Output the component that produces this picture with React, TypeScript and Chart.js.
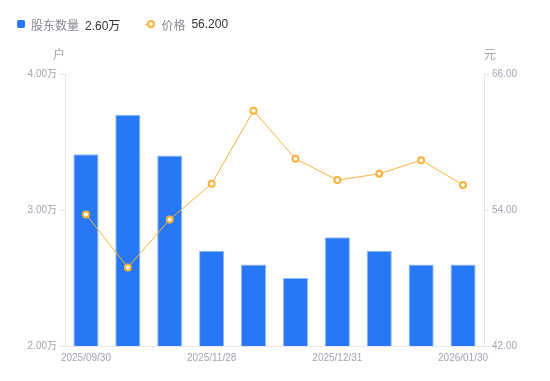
import React, { useEffect, useRef } from "react";
import { Chart, registerables } from "chart.js";

Chart.register(...registerables);

const categories = [
  "2025/09/30",
  "2025/10/20",
  "2025/10/31",
  "2025/11/28",
  "2025/12/10",
  "2025/12/19",
  "2025/12/31",
  "2026/01/09",
  "2026/01/20",
  "2026/01/30",
];
const holders = [3.41, 3.7, 3.4, 2.7, 2.6, 2.5, 2.8, 2.7, 2.6, 2.6];
const prices = [53.61, 48.93, 53.17, 56.31, 62.76, 58.52, 56.64, 57.19, 58.4, 56.2];
const shownLabelIdx = [0, 3, 6, 9];
const leftTicks = [2, 3, 4];
const rightTicks = [42, 54, 66];

const BLUE = "#2878f5";
const ORANGE = "#f7b23b";
const TICK_COLOR = "#a3a3b3";
const LINE_COLOR = "#e6e6ea";
const FONT = "'Liberation Sans', 'Noto Sans CJK SC', sans-serif";

const axisTitlePlugin = {
  id: "axisTitles",
  afterDraw(chart: any) {
    const ctx = chart.ctx;
    const yL = chart.scales.y;
    const yR = chart.scales.y1;
    ctx.save();
    ctx.fillStyle = TICK_COLOR;
    ctx.font = `12px ${FONT}`;
    ctx.textBaseline = "middle";
    ctx.textAlign = "center";
    ctx.fillText("户", yL.right - 6, 56);
    ctx.fillText("元", yR.left + 6, 56);
    ctx.restore();
  },
};

export default function App() {
  const ref = useRef<HTMLCanvasElement | null>(null);

  useEffect(() => {
    if (!ref.current) return;
    const chart = new Chart(ref.current, {
      type: "bar",
      data: {
        labels: categories,
        datasets: [
          {
            type: "line",
            label: "价格",
            data: prices,
            yAxisID: "y1",
            borderColor: ORANGE,
            borderWidth: 1,
            pointRadius: 3,
            pointBorderWidth: 2,
            pointBackgroundColor: "#ffffff",
            pointBorderColor: ORANGE,
            tension: 0,
            order: 0,
          } as any,
          {
            type: "bar",
            label: "股东数量",
            data: holders,
            yAxisID: "y",
            backgroundColor: BLUE,
            borderColor: "#8fbaf8",
            borderWidth: 1,
            barPercentage: 0.6,
            categoryPercentage: 1,
            order: 1,
          } as any,
        ],
      },
      options: {
        animation: false,
        responsive: false,
        maintainAspectRatio: false,
        layout: { padding: { top: 74, left: 0, right: 0, bottom: 0 } },
        plugins: {
          legend: { display: false },
          tooltip: { enabled: false },
        },
        scales: {
          x: {
            grid: { display: false, drawTicks: false, tickLength: 0 },
            border: { display: true, color: LINE_COLOR },
            ticks: {
              autoSkip: false,
              maxRotation: 0,
              minRotation: 0,
              color: TICK_COLOR,
              font: { size: 10, family: FONT },
              padding: 6,
              callback: (_v: any, i: number) =>
                shownLabelIdx.includes(i) ? categories[i] : "",
            },
            afterFit: (s: any) => {
              s.height = 35;
            },
          },
          y: {
            position: "left",
            min: 2,
            max: 4,
            afterBuildTicks: (s: any) => {
              s.ticks = leftTicks.map((v) => ({ value: v }));
            },
            grid: {
              display: true,
              drawOnChartArea: false,
              drawTicks: true,
              tickLength: 5,
              color: LINE_COLOR,
            },
            border: { display: true, color: LINE_COLOR },
            ticks: {
              color: TICK_COLOR,
              font: { size: 10, family: FONT },
              padding: 3,
              callback: (v: any) => `${Number(v).toFixed(2)}万`,
            },
            afterFit: (s: any) => {
              s.width = 65;
            },
          },
          y1: {
            position: "right",
            min: 42,
            max: 66,
            afterBuildTicks: (s: any) => {
              s.ticks = rightTicks.map((v) => ({ value: v }));
            },
            grid: {
              display: true,
              drawOnChartArea: false,
              drawTicks: true,
              tickLength: 5,
              color: LINE_COLOR,
            },
            border: { display: true, color: LINE_COLOR },
            ticks: {
              color: TICK_COLOR,
              font: { size: 10, family: FONT },
              padding: 3,
              callback: (v: any) => Number(v).toFixed(2),
            },
            afterFit: (s: any) => {
              s.width = 66;
            },
          },
        },
      } as any,
      plugins: [axisTitlePlugin],
    });
    return () => chart.destroy();
  }, []);

  return (
    <div
      style={{
        position: "absolute",
        left: 0,
        top: 0,
        width: 550,
        height: 381,
        background: "#ffffff",
        fontFamily: FONT,
      }}
    >
      <canvas ref={ref} width={550} height={381} style={{ position: "absolute", left: 0, top: 0 }} />
      <div
        style={{
          position: "absolute",
          left: 17,
          top: 15,
          height: 18,
          display: "flex",
          alignItems: "center",
          fontSize: 12,
          whiteSpace: "nowrap",
        }}
      >
        <span
          style={{
            display: "inline-block",
            width: 8,
            height: 8,
            borderRadius: 2,
            background: BLUE,
            marginRight: 6,
          }}
        />
        <span style={{ color: "#888894" }}>股东数量</span>
        <span style={{ color: "#333333", marginLeft: 6 }}>2.60万</span>
        <span
          style={{
            position: "relative",
            display: "inline-block",
            width: 10,
            height: 9,
            marginLeft: 25,
            marginRight: 6,
          }}
        >
          <span
            style={{
              position: "absolute",
              left: 0,
              top: 4,
              width: 10,
              height: 1.5,
              background: ORANGE,
            }}
          />
          <span
            style={{
              position: "absolute",
              left: 1.5,
              top: 0.5,
              width: 4,
              height: 4,
              borderRadius: "50%",
              border: `2px solid ${ORANGE}`,
              background: "#fff",
              boxSizing: "content-box",
            }}
          />
        </span>
        <span style={{ color: "#888894" }}>价格</span>
        <span style={{ color: "#333333", marginLeft: 6 }}>56.200</span>
      </div>
    </div>
  );
}
